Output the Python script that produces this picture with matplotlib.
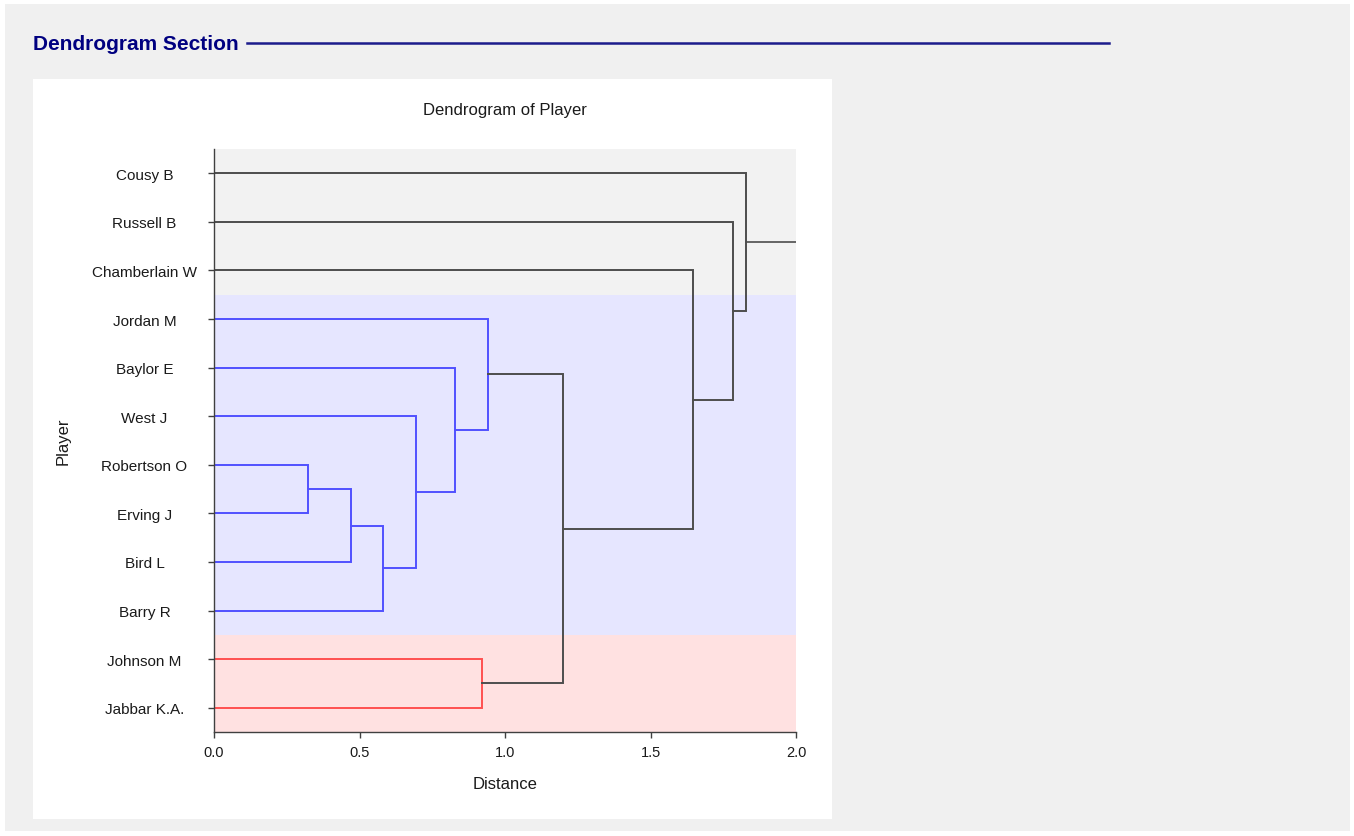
import matplotlib.pyplot as plt
from matplotlib.patches import Rectangle
from matplotlib.lines import Line2D

plt.rcParams['font.family'] = ['Liberation Sans', 'DejaVu Sans']

# leaves, top to bottom
players = ["Cousy B", "Russell B", "Chamberlain W", "Jordan M", "Baylor E", "West J",
           "Robertson O", "Erving J", "Bird L", "Barry R", "Johnson M", "Jabbar K.A."]

# merge steps: (left child, right child, distance); new nodes get ids 12, 13, ...
merge_left = [6, 12, 13, 5, 4, 3, 10, 17, 2, 1, 0]
merge_right = [7, 8, 9, 14, 15, 16, 11, 18, 19, 20, 21]
merge_dist = [0.324, 0.472, 0.581, 0.693, 0.828, 0.942, 0.920, 1.200, 1.646, 1.782, 1.827]

# cluster id per leaf (0 = unclustered)
leaf_cluster = [0, 0, 0, 1, 1, 1, 1, 1, 1, 1, 2, 2]
cluster_line = {0: "#4d4d4d", 1: "#5050ff", 2: "#ff5050"}
cluster_band = {0: "#f2f2f2", 1: "#e6e6ff", 2: "#ffe1e1"}

W, H = 1354, 837
fig = plt.figure(figsize=(W / 100, H / 100), dpi=100)
fig.patch.set_facecolor("white")


def fx(x):
    return x / W


def fy(y):
    return 1 - y / H


# page background and white chart panel
fig.add_artist(Rectangle((fx(5), fy(832)), fx(1345), 827 / H, transform=fig.transFigure,
                         facecolor="#f0f0f0", edgecolor="none", zorder=-10))
fig.add_artist(Rectangle((fx(33), fy(820)), fx(799), 740 / H, transform=fig.transFigure,
                         facecolor="white", edgecolor="none", zorder=-9))

fig.text(fx(33), fy(44.5), "Dendrogram Section", color="#000080", fontsize=15,
         fontweight="bold", va="center", ha="left")
fig.add_artist(Line2D([fx(247), fx(1109)], [fy(43.5), fy(43.5)], color="#1c1c8c", lw=1.8))

ax = fig.add_axes([fx(214), fy(733), (796 - 214) / W, (733 - 150) / H])
ax.set_xlim(0, 2.0)
ax.set_ylim(len(players) - 0.5, -0.5)
ax.set_facecolor("white")

# background bands per cluster
start = 0
for i in range(1, len(players) + 1):
    if i == len(players) or leaf_cluster[i] != leaf_cluster[start]:
        ax.axhspan(start - 0.5, i - 0.5, color=cluster_band[leaf_cluster[start]], lw=0, zorder=0)
        start = i

# build node positions and draw links
pos = {i: float(i) for i in range(len(players))}
height = {i: 0.0 for i in range(len(players))}
members = {i: {leaf_cluster[i]} for i in range(len(players))}
node = len(players)
for a, b, d in zip(merge_left, merge_right, merge_dist):
    clus = members[a] | members[b]
    col = cluster_line[list(clus)[0]] if len(clus) == 1 else cluster_line[0]
    ax.plot([height[a], d, d, height[b]], [pos[a], pos[a], pos[b], pos[b]],
            color=col, lw=1.4, zorder=3, solid_joinstyle="miter")
    pos[node] = (pos[a] + pos[b]) / 2
    height[node] = d
    members[node] = clus if len(clus) == 1 else {-1}
    node += 1

root = node - 1
ax.plot([height[root], 2.0], [pos[root], pos[root]], color=cluster_line[0], lw=1.2, zorder=3)

for s in ["top", "right"]:
    ax.spines[s].set_visible(False)
for s in ["left", "bottom"]:
    ax.spines[s].set_color("#404040")
    ax.spines[s].set_linewidth(1.0)
    ax.spines[s].set_zorder(4)

ax.set_yticks(range(len(players)))
ax.set_yticklabels(players, ha="center", fontsize=11, color="#1a1a1a")
ax.tick_params(axis="y", length=4.5, width=1.0, color="#404040", pad=45.5)
ax.set_xticks([0.0, 0.5, 1.0, 1.5, 2.0])
ax.set_xticklabels(["0.0", "0.5", "1.0", "1.5", "2.0"], fontsize=10.5, color="#1a1a1a")
ax.tick_params(axis="x", length=4.5, width=1.0, color="#404040", pad=5)

fig.text(fx(505), fy(110), "Dendrogram of Player", fontsize=12, ha="center", va="center",
         color="#1a1a1a")
fig.text(fx(505), fy(785), "Distance", fontsize=12, ha="center", va="center", color="#1a1a1a")
fig.text(fx(63), fy(441), "Player", fontsize=12, ha="center", va="center", rotation=90,
         color="#1a1a1a")

fig.savefig("out.png", dpi=100)
